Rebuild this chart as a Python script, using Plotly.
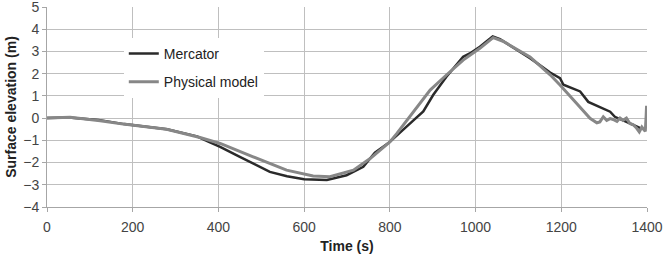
import plotly.graph_objects as go

# Mercator model (time in s, surface elevation in m)
merc_t = [0, 50, 120, 180, 280, 350, 375, 404, 450, 481, 520, 560, 600, 653, 699,
          738, 765, 800, 816, 855, 878, 901, 932, 971, 990, 1010, 1040, 1057, 1127,
          1174, 1197, 1205, 1244, 1263, 1314, 1325, 1352, 1376, 1390]
merc_v = [0, 0.03, -0.08, -0.27, -0.5, -0.82, -1.05, -1.29, -1.74, -2.04, -2.42, -2.62,
          -2.75, -2.78, -2.57, -2.19, -1.56, -1.07, -0.8, -0.1, 0.3, 1.04, 1.86, 2.76,
          2.95, 3.21, 3.68, 3.55, 2.7, 2.05, 1.8, 1.5, 1.2, 0.73, 0.29, 0.06, -0.17,
          -0.39, -0.5]

# Physical model
phys_t = [0, 54, 124, 178, 279, 357, 404, 450, 481, 559, 621, 660, 715, 754, 800,
          816, 855, 894, 932, 971, 1010, 1041, 1064, 1127, 1174, 1197, 1236, 1267,
          1283, 1290, 1298, 1306, 1314, 1321, 1330, 1337, 1344, 1352, 1360, 1368,
          1376, 1382, 1388, 1392, 1396, 1398, 1399, 1400]
phys_v = [0, 0.04, -0.12, -0.27, -0.5, -0.87, -1.14, -1.52, -1.74, -2.34, -2.6, -2.64,
          -2.34, -1.82, -1.07, -0.7, 0.3, 1.26, 1.94, 2.61, 3.14, 3.62, 3.46, 2.75,
          1.95, 1.49, 0.66, -0.01, -0.21, -0.17, 0.06, -0.1, -0.02, -0.06, -0.15, 0,
          -0.1, 0, -0.24, -0.3, -0.46, -0.62, -0.4, -0.5, -0.6, 0.1, 0.55, -0.3]

x_ticks = [0, 200, 400, 600, 800, 1000, 1200, 1400]
y_ticks = [-4, -3, -2, -1, 0, 1, 2, 3, 4, 5]

fig = go.Figure()
fig.add_trace(go.Scatter(x=merc_t, y=merc_v, mode="lines", name="Mercator",
                         legendgroup="a",
                         line=dict(color="#2a2a2a", width=2.5)))
fig.add_trace(go.Scatter(x=phys_t, y=phys_v, mode="lines", name="Physical model",
                         legendgroup="b",
                         line=dict(color="#878787", width=3)))

font = "Liberation Sans, Arial, sans-serif"
fig.update_layout(
    width=664, height=257,
    margin=dict(l=47, r=17, t=7, b=50),
    paper_bgcolor="white", plot_bgcolor="white",
    font=dict(family=font, size=14, color="#333333"),
    showlegend=True,
    legend=dict(x=0.128, y=0.845, xanchor="left", yanchor="top",
                bgcolor="white", borderwidth=0, tracegroupgap=7,
                traceorder="grouped",
                font=dict(family=font, size=14, color="#222222")),
    xaxis=dict(range=[0, 1400], tickvals=x_ticks, ticks="outside", ticklen=4,
               automargin=False, ticklabeloverflow="allow", ticklabelstandoff=3,
               tickcolor="#a6a6a6", showline=True, linecolor="#a6a6a6",
               showgrid=True, gridcolor="#bfbfbf", gridwidth=1, zeroline=False,
               tickfont=dict(size=14, color="#444444"),
               title=dict(text="<b>Time (s)</b>", font=dict(size=14, color="#222222"),
                          standoff=7)),
    yaxis=dict(range=[-4, 5], tickvals=y_ticks, ticks="outside", ticklen=4,
               automargin=False, ticklabeloverflow="allow",
               tickcolor="#a6a6a6", showline=True, linecolor="#a6a6a6",
               showgrid=True, gridcolor="#bfbfbf", gridwidth=1, zeroline=False,
               tickfont=dict(size=14, color="#444444"),
               title=dict(text="<b>Surface elevation (m)</b>",
                          font=dict(size=14, color="#222222"), standoff=3)),
)

fig.write_html("out.html",
               config={"displayModeBar": False},
               post_script="document.body.style.margin='0';"
                           "document.body.style.overflow='hidden';")
